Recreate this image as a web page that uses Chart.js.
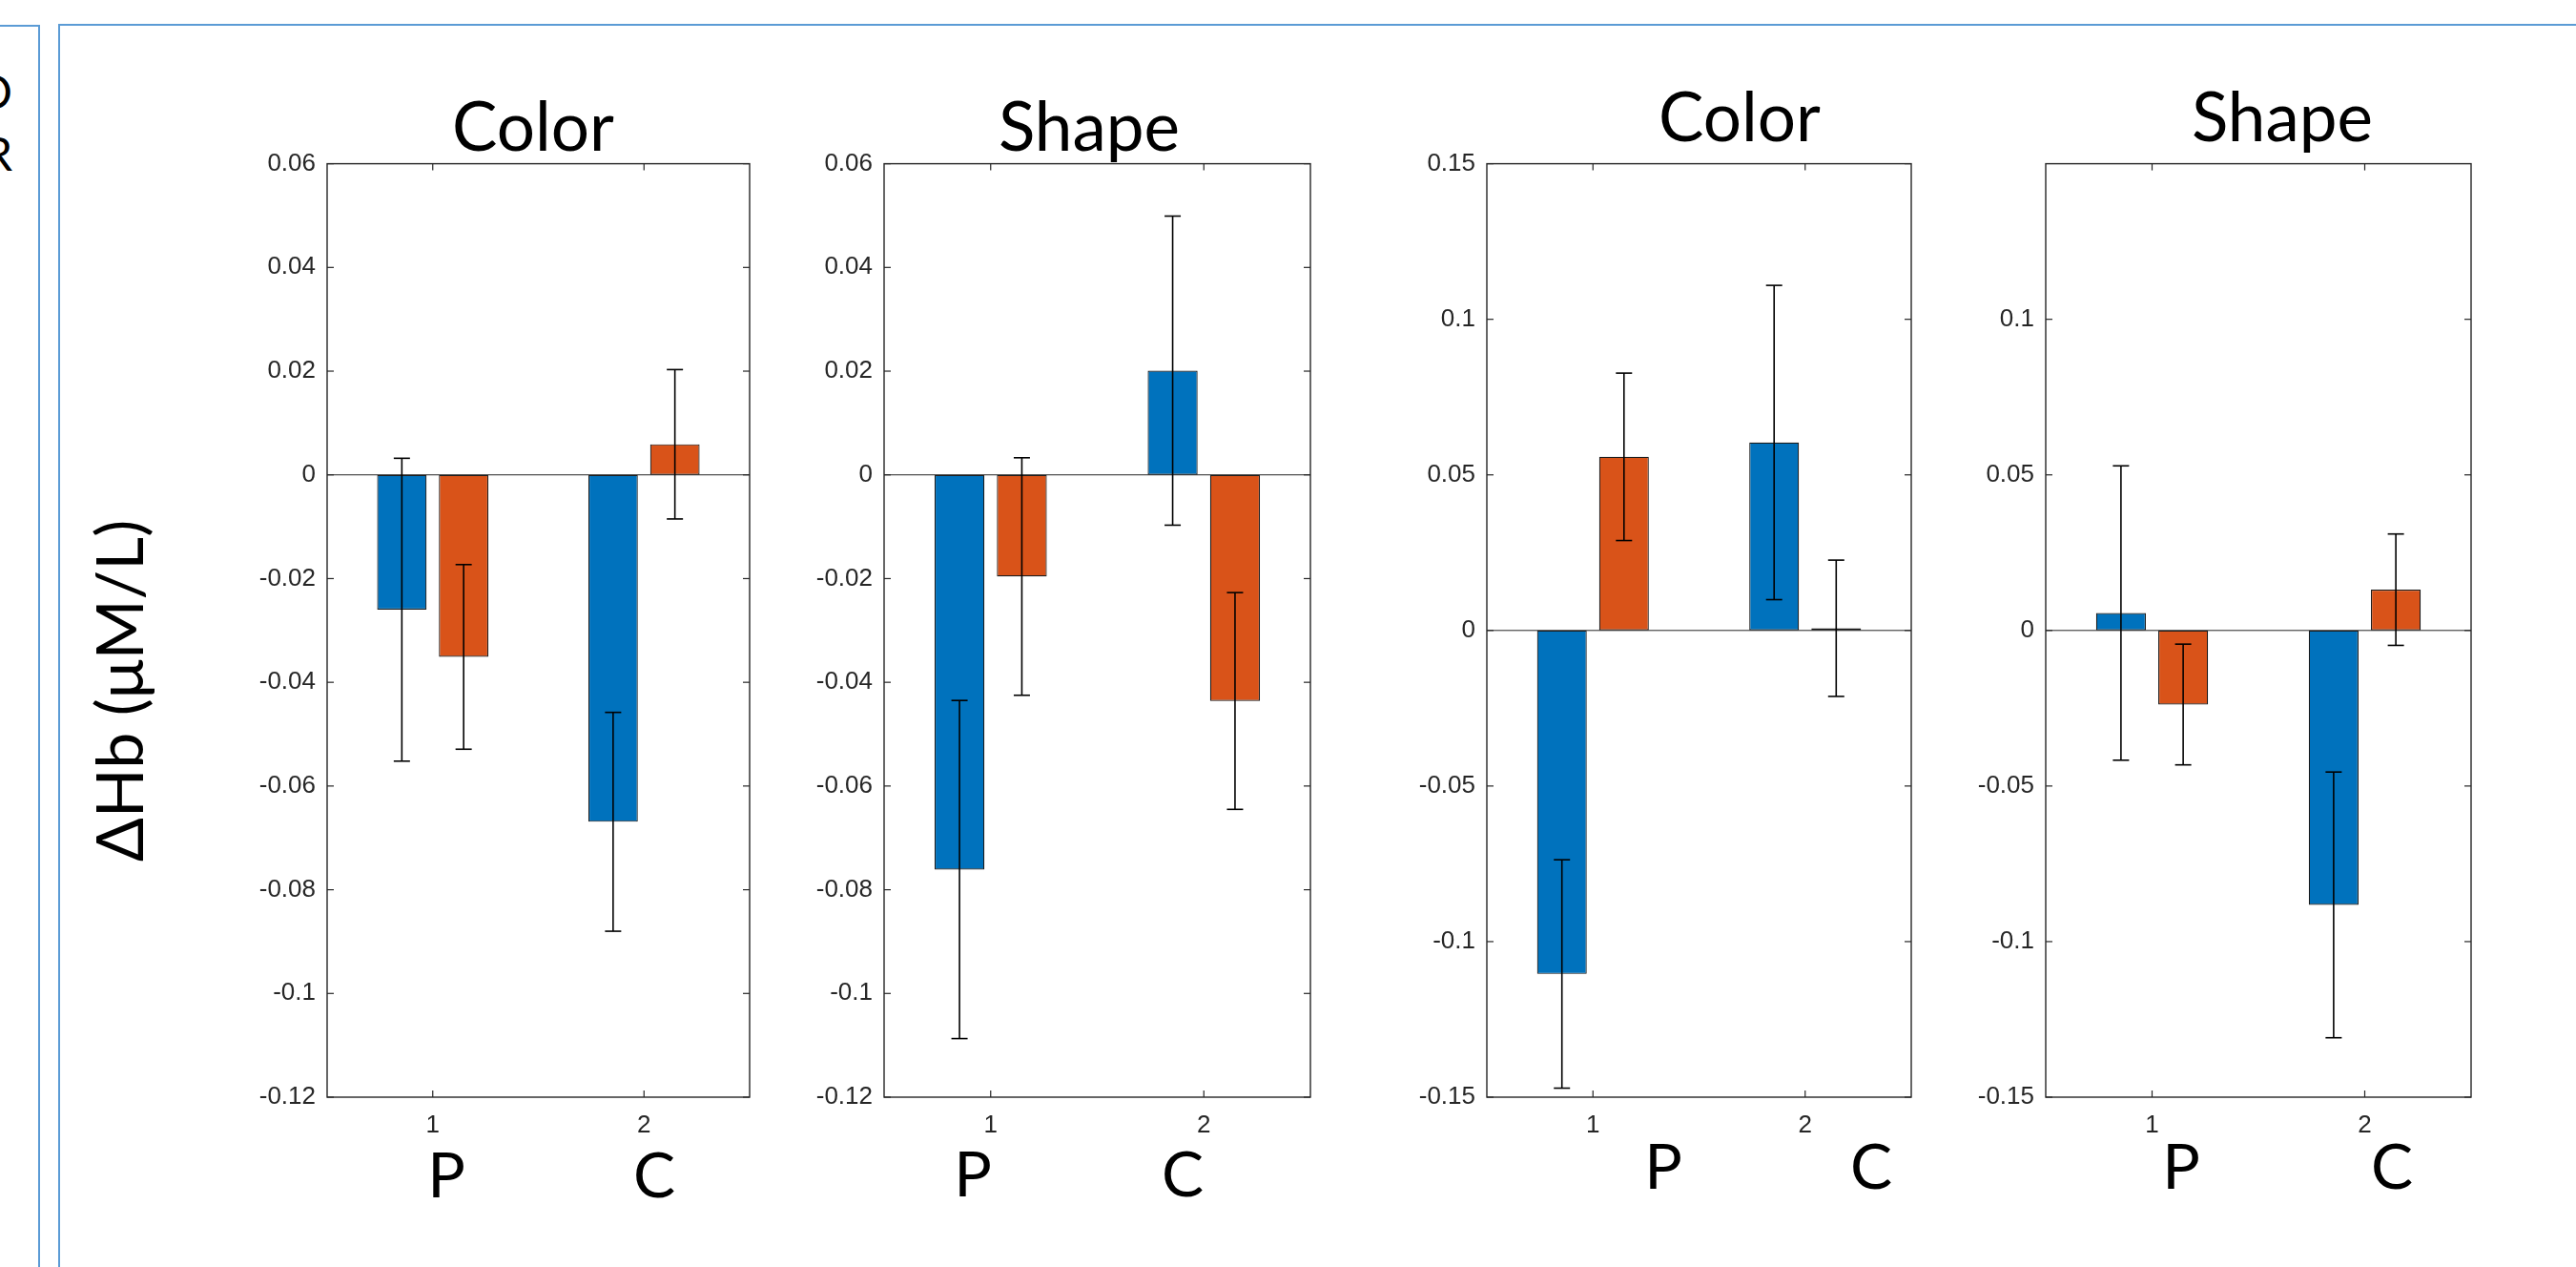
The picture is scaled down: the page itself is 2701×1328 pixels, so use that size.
<!DOCTYPE html>
<html>
<head>
<meta charset="utf-8">
<title>ΔHb bar charts</title>
<script src="https://cdn.jsdelivr.net/npm/chart.js@4.4.0/dist/chart.umd.min.js"></script>
<style>
    html, body { margin: 0; padding: 0; background: #fff; }
    body { width: 2701px; height: 1328px; position: relative; overflow: hidden; font-family: Lato, "Open Sans", sans-serif; }
    .frame { position: absolute; box-sizing: border-box; border: 2px solid #5B9BD5; }
    .panel { position: absolute; }
    .txt { position: absolute; color: #000; white-space: nowrap; line-height: 1; }
    .center { transform: translateX(-50%); }
</style>
</head>
<body>
<!-- slide frames -->
<div class="frame" style="left:-100px; top:26px; width:142px; height:1400px;"></div>
<div class="frame" style="left:61px; top:25px; width:2720px; height:1400px;"></div>

<!-- clipped letters from the left box -->
<div class="txt" style="left:-200px; width:213px; text-align:right; top:72px; font-size:48px;">O</div>
<div class="txt" style="left:-200px; width:213px; text-align:right; top:137px; font-size:48px;">R</div>

<!-- y axis label -->
<div class="txt" style="left:124px; top:724px; font-size:68px; transform: translate(-50%, -50%) rotate(-90deg);">ΔHb (μM/L)</div>

<!-- panel titles -->
<div class="txt center" style="left:559px; top:95px; font-size:71px;">Color</div>
<div class="txt center" style="left:1142px; top:95px; font-size:71px;">Shape</div>
<div class="txt center" style="left:1824px; top:85px; font-size:71px;">Color</div>
<div class="txt center" style="left:2393px; top:85px; font-size:71px;">Shape</div>

<!-- group labels under the axes -->
<div class="txt center" style="left:468px; top:1197px; font-size:66px;">P</div>
<div class="txt center" style="left:686px; top:1197px; font-size:66px;">C</div>
<div class="txt center" style="left:1020px; top:1196px; font-size:66px;">P</div>
<div class="txt center" style="left:1240px; top:1196px; font-size:66px;">C</div>
<div class="txt center" style="left:1744px; top:1188px; font-size:66px;">P</div>
<div class="txt center" style="left:1962px; top:1188px; font-size:66px;">C</div>
<div class="txt center" style="left:2287px; top:1188px; font-size:66px;">P</div>
<div class="txt center" style="left:2508px; top:1188px; font-size:66px;">C</div>

<div class="panel" id="p1"><canvas id="chart1"></canvas></div>
<div class="panel" id="p2"><canvas id="chart2"></canvas></div>
<div class="panel" id="p3"><canvas id="chart3"></canvas></div>
<div class="panel" id="p4"><canvas id="chart4"></canvas></div>

<script>
// categories on the x axis
const categories = ['1', '2'];

// panel 1 (Color, left pair)
const color1Blue = [-0.0260, -0.0669];
const color1BlueErr = [0.0292, 0.0211];
const color1Orange = [-0.0351, 0.0059];
const color1OrangeErr = [0.0178, 0.0144];

// panel 2 (Shape, left pair)
const shape1Blue = [-0.0761, 0.0201];
const shape1BlueErr = [0.0326, 0.0298];
const shape1Orange = [-0.0196, -0.0436];
const shape1OrangeErr = [0.0229, 0.0209];

// panel 3 (Color, right pair)
const color2Blue = [-0.1104, 0.0604];
const color2BlueErr = [0.0367, 0.0505];
const color2Orange = [0.0558, 0.0007];
const color2OrangeErr = [0.0269, 0.0219];

// panel 4 (Shape, right pair)
const shape2Blue = [0.0056, -0.0882];
const shape2BlueErr = [0.0473, 0.0427];
const shape2Orange = [-0.0238, 0.0131];
const shape2OrangeErr = [0.0194, 0.0179];

// y tick labels
const yTicksSmall = [-0.12, -0.1, -0.08, -0.06, -0.04, -0.02, 0, 0.02, 0.04, 0.06];
const yTicksLarge = [-0.15, -0.1, -0.05, 0, 0.05, 0.1, 0.15];
const yTicksLargeNoTop = [-0.15, -0.1, -0.05, 0, 0.05, 0.1];

const BLUE = '#0072BD';
const ORANGE = '#D95319';
const AXIS = '#262626';

// axes box position on the page (plot area)
const AXIS_TOP = 164;
const AXIS_BOTTOM = 1150;
const Y_AXIS_W = 110;
const X_AXIS_H = 60;
const PAD_TOP = 20;
const PAD_RIGHT = 20;

Chart.defaults.font.family = '"Liberation Sans", Arial, sans-serif';

// MATLAB style box, ticks, baseline and error bars
const matlabAxes = {
    id: 'matlabAxes',
    afterDatasetsDraw(chart) {
        const ctx = chart.ctx;
        const a = chart.chartArea;
        const x = chart.scales.x;
        const y = chart.scales.y;

        function seg(x1, y1, x2, y2) {
            ctx.beginPath();
            ctx.moveTo(x1, y1);
            ctx.lineTo(x2, y2);
            ctx.stroke();
        }

        ctx.save();

        // zero baseline
        ctx.strokeStyle = AXIS;
        ctx.lineWidth = 1;
        const y0 = y.getPixelForValue(0);
        seg(a.left, y0, a.right, y0);

        // error bars
        ctx.strokeStyle = '#000';
        ctx.lineWidth = 1.6;
        chart.data.datasets.forEach((ds, i) => {
            const meta = chart.getDatasetMeta(i);
            meta.data.forEach((bar, j) => {
                const v = ds.data[j];
                const e = ds.errors[j];
                const yt = y.getPixelForValue(v + e);
                const yb = y.getPixelForValue(v - e);
                seg(bar.x, yt, bar.x, yb);
                seg(bar.x - 8.5, yt, bar.x + 8.5, yt);
                seg(bar.x - 8.5, yb, bar.x + 8.5, yb);
            });
        });

        // box
        ctx.strokeStyle = AXIS;
        ctx.lineWidth = 1.4;
        ctx.strokeRect(a.left, a.top, a.right - a.left, a.bottom - a.top);

        // inward ticks
        ctx.lineWidth = 1.2;
        const tl = 7;
        y.ticks.forEach(t => {
            const py = y.getPixelForValue(t.value);
            seg(a.left, py, a.left + tl, py);
            seg(a.right - tl, py, a.right, py);
        });
        x.ticks.forEach((t, i) => {
            const px = x.getPixelForTick(i);
            seg(px, a.bottom, px, a.bottom - tl);
            seg(px, a.top, px, a.top + tl);
        });

        ctx.restore();
    }
};

function formatTick(v) {
    return String(parseFloat(v.toFixed(3)));
}

// build one panel
function createPanel(canvasId, boxId, left, right, blue, blueErr, orange, orangeErr, yMin, yMax, yTicks) {
    const box = document.getElementById(boxId);
    box.style.left = (left - Y_AXIS_W) + 'px';
    box.style.top = (AXIS_TOP - PAD_TOP) + 'px';
    box.style.width = (right - left + Y_AXIS_W + PAD_RIGHT) + 'px';
    box.style.height = (AXIS_BOTTOM - AXIS_TOP + PAD_TOP + X_AXIS_H) + 'px';

    const tickFont = { family: '"Liberation Sans", Arial, sans-serif', size: 26 };

    return new Chart(document.getElementById(canvasId), {
        type: 'bar',
        data: {
            labels: categories,
            datasets: [
                {
                    data: blue,
                    errors: blueErr,
                    backgroundColor: BLUE,
                    borderColor: '#1a1a1a',
                    borderWidth: 1.2,
                    borderSkipped: false,
                    categoryPercentage: 0.585,
                    barPercentage: 0.8
                },
                {
                    data: orange,
                    errors: orangeErr,
                    backgroundColor: ORANGE,
                    borderColor: '#1a1a1a',
                    borderWidth: 1.2,
                    borderSkipped: false,
                    categoryPercentage: 0.585,
                    barPercentage: 0.8
                }
            ]
        },
        options: {
            responsive: true,
            maintainAspectRatio: false,
            animation: false,
            layout: { padding: { top: PAD_TOP, right: PAD_RIGHT, left: 0, bottom: 0 } },
            plugins: {
                legend: { display: false },
                tooltip: { enabled: false },
                title: { display: false }
            },
            scales: {
                x: {
                    grid: { display: false, drawTicks: false },
                    border: { display: false },
                    ticks: { padding: 14, color: AXIS, font: tickFont, maxRotation: 0 },
                    afterFit: function(scale) { scale.height = X_AXIS_H; }
                },
                y: {
                    min: yMin,
                    max: yMax,
                    grid: { display: false, drawTicks: false },
                    border: { display: false },
                    ticks: {
                        padding: 12,
                        color: AXIS,
                        font: tickFont,
                        callback: function(value) { return formatTick(value); }
                    },
                    afterBuildTicks: function(scale) {
                        scale.ticks = yTicks.map(v => ({ value: v }));
                    },
                    afterFit: function(scale) { scale.width = Y_AXIS_W; }
                }
            }
        },
        plugins: [matlabAxes]
    });
}

createPanel('chart1', 'p1', 343, 786, color1Blue, color1BlueErr, color1Orange, color1OrangeErr, -0.12, 0.06, yTicksSmall);
createPanel('chart2', 'p2', 927, 1374, shape1Blue, shape1BlueErr, shape1Orange, shape1OrangeErr, -0.12, 0.06, yTicksSmall);
createPanel('chart3', 'p3', 1559, 2004, color2Blue, color2BlueErr, color2Orange, color2OrangeErr, -0.15, 0.15, yTicksLarge);
createPanel('chart4', 'p4', 2145, 2591, shape2Blue, shape2BlueErr, shape2Orange, shape2OrangeErr, -0.15, 0.15, yTicksLargeNoTop);
</script>
</body>
</html>
